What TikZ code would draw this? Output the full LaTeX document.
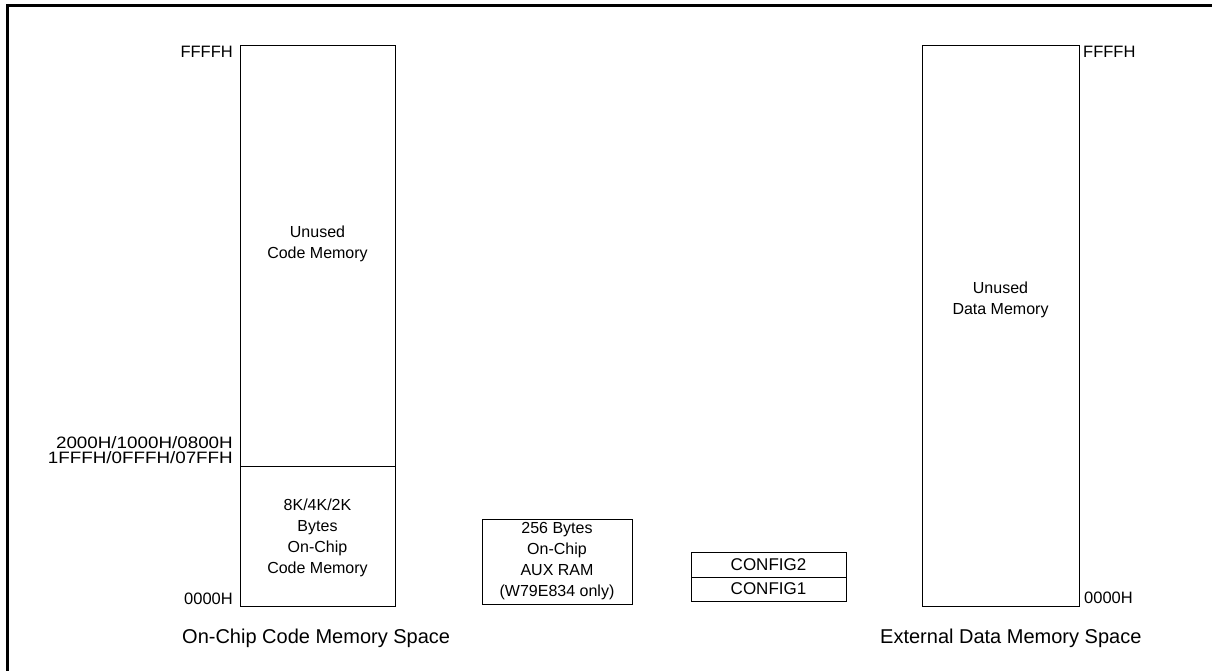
\documentclass[tikz,border=0pt]{standalone}
\usepackage{fontspec}
\setmainfont{Liberation Sans}
\newfontfamily\widefont[FakeStretch=1.14]{Liberation Sans}
\begin{document}
\begin{tikzpicture}[x=1pt,y=-1pt,
  memblock/.style={draw=black,line width=0.9pt,inner sep=0pt,anchor=north west},
  boxtext/.style={align=center,inner sep=0pt,font=\fontsize{16}{20.6}\selectfont},
  addrleft/.style={anchor=base east,inner sep=0pt,font=\fontsize{16.5}{15}\selectfont},
  addrright/.style={anchor=base west,inner sep=0pt,font=\fontsize{16.5}{15}\selectfont},
  spacetitle/.style={anchor=base west,inner sep=0pt,font=\fontsize{20}{24}\selectfont}]
\useasboundingbox (0,0) rectangle (1212,671);
\fill[white] (0,0) rectangle (1212,671);
% outer frame (only top and left visible)
\coordinate (frameTR) at (1212,6);
\coordinate (frameTL) at (7,6);
\coordinate (frameBL) at (7,671);
\draw[line width=3pt] (frameTR) -- (frameTL) -- (frameBL);

% on-chip code memory space
\node[memblock,minimum width=155pt,minimum height=421pt] (unusedcode) at (240,45) {};
\node[memblock,minimum width=155pt,minimum height=140pt] (codemem) at (240,466) {};
\node[boxtext] (unusedcodetxt) at (317.5,244) {Unused\\Code Memory};
\node[boxtext,font=\fontsize{16}{21}\selectfont] (codememtxt) at (317.5,538) {8K/4K/2K\\Bytes\\On-Chip\\Code Memory};
\node[addrleft] (ffffl) at (233,58) {FFFFH};
\node[addrleft,align=right,font=\widefont\fontsize{16.5}{15}\selectfont] (splitl) at (233,463) {2000H/1000H/0800H\\1FFFH/0FFFH/07FFH};
\node[addrleft] (zerol) at (233,604) {0000H};
\node[spacetitle] (codetitle) at (182,643) {On-Chip Code Memory Space};

% AUX RAM
\node[memblock,minimum width=150pt,minimum height=85pt] (auxram) at (482,519) {};
\node[boxtext,font=\fontsize{16}{21}\selectfont] (auxtxt) at (557,561) {256 Bytes\\On-Chip\\AUX RAM\\(W79E834 only)};

% CONFIG registers
\node[memblock,minimum width=155pt,minimum height=25pt] (config2) at (691,552) {};
\node[memblock,minimum width=155pt,minimum height=24pt] (config1) at (691,577) {};
\node[boxtext,font=\fontsize{17}{20}\selectfont] (config2txt) at (768.5,564.5) {CONFIG2};
\node[boxtext,font=\fontsize{17}{20}\selectfont] (config1txt) at (768.5,589) {CONFIG1};

% external data memory space
\node[memblock,minimum width=157pt,minimum height=561pt] (datamem) at (922,45) {};
\node[boxtext] (datamemtxt) at (1000.5,300) {Unused\\Data Memory};
\node[addrright] (ffffr) at (1083,58) {FFFFH};
\node[addrright] (zeror) at (1084,603) {0000H};
\node[spacetitle] (datatitle) at (880,643) {External Data Memory Space};
\end{tikzpicture}
\end{document}
